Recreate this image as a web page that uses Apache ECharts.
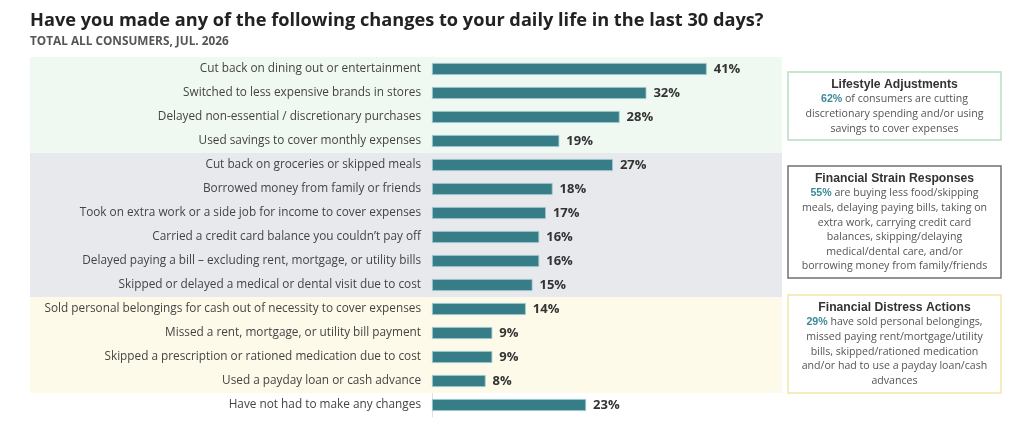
<!DOCTYPE html>
<html>
<head>
<meta charset="utf-8">
<script src="https://cdn.jsdelivr.net/npm/echarts@6/dist/echarts.min.js"></script>
<style>
  html, body { margin: 0; padding: 0; background: #fff; }
  #main { width: 1024px; height: 426px; }
</style>
</head>
<body>
<div id="main"></div>
<script>
var categories = [
    'Cut back on dining out or entertainment',
    'Switched to less expensive brands in stores',
    'Delayed non-essential / discretionary purchases',
    'Used savings to cover monthly expenses',
    'Cut back on groceries or skipped meals',
    'Borrowed money from family or friends',
    'Took on extra work or a side job for income to cover expenses',
    'Carried a credit card balance you couldn\u2019t pay off',
    'Delayed paying a bill \u2013 excluding rent, mortgage, or utility bills',
    'Skipped or delayed a medical or dental visit due to cost',
    'Sold personal belongings for cash out of necessity to cover expenses',
    'Missed a rent, mortgage, or utility bill payment',
    'Skipped a prescription or rationed medication due to cost',
    'Used a payday loan or cash advance',
    'Have not had to make any changes'
];
var values = [41, 32, 28, 19, 27, 18, 17, 16, 16, 15, 14, 9, 9, 8, 23];
// which group each row belongs to (background band)
var groups = ['life', 'life', 'life', 'life',
    'strain', 'strain', 'strain', 'strain', 'strain', 'strain',
    'distress', 'distress', 'distress', 'distress',
    'none'];

var bandColors = {
    life: '#f0f8f2',
    strain: '#e8e9ec',
    distress: '#fdfaea',
    none: 'rgba(0,0,0,0)'
};
var teal = '#367d88';

var boxes = [
    {
        title: 'Lifestyle Adjustments',
        pct: '62%',
        lines: ['of consumers are cutting', 'discretionary spending and/or using', 'savings to cover expenses'],
        border: '#b8dfc0',
        top: 72, height: 68
    },
    {
        title: 'Financial Strain Responses',
        pct: '55%',
        lines: ['are buying less food/skipping', 'meals, delaying paying bills, taking on', 'extra work, carrying credit card',
            'balances, skipping/delaying', 'medical/dental care, and/or', 'borrowing money from family/friends'],
        border: '#707070',
        top: 166, height: 112
    },
    {
        title: 'Financial Distress Actions',
        pct: '29%',
        lines: ['have sold personal belongings,', 'missed paying rent/mortgage/utility', 'bills, skipped/rationed medication',
            'and/or had to use a payday loan/cash', 'advances'],
        border: '#f1e7ae',
        top: 295, height: 98
    }
];

var chartDom = document.getElementById('main');
var myChart = echarts.init(chartDom);
var option;

var fontFam = '"Open Sans", "Noto Sans", sans-serif';

var bandData = groups.map(function (g) {
    return { value: 1, itemStyle: { color: bandColors[g] } };
});

var graphics = [];
boxes.forEach(function (b) {
    graphics.push({
        type: 'rect',
        shape: { x: 788, y: b.top, width: 213, height: b.height },
        style: { fill: '#fff', stroke: b.border, lineWidth: 1.5 },
        z: 10
    });
    var body = '{p|' + b.pct + '} ' + b.lines.join('\n');
    graphics.push({
        type: 'text',
        x: 894.5,
        y: b.top + 5,
        z: 11,
        style: {
            text: '{t|' + b.title + '}\n' + body,
            align: 'center',
            verticalAlign: 'top',
            fontFamily: fontFam,
            fontSize: 10.6,
            lineHeight: 14.6,
            fill: '#555',
            rich: {
                t: { fontWeight: 'bold', fontSize: 12.2, fill: '#333', lineHeight: 15 },
                p: { fontWeight: 'bold', fill: '#3a8a95', fontSize: 10.6 }
            }
        }
    });
});

option = {
    backgroundColor: '#fff',
    animation: false,
    title: {
        text: 'Have you made any of the following changes to your daily life in the last 30 days?',
        subtext: 'TOTAL ALL CONSUMERS, JUL. 2026',
        left: 25,
        top: 7,
        itemGap: 6,
        textStyle: { fontFamily: fontFam, fontSize: 18.2, fontWeight: 'bold', color: '#222' },
        subtextStyle: { fontFamily: fontFam, fontSize: 11.8, fontWeight: 'bold', color: '#555' }
    },
    grid: [
        { left: 30, right: 242, top: 57, bottom: 9 },
        { left: 432, right: 257, top: 57, bottom: 9 }
    ],
    xAxis: [
        { gridIndex: 0, type: 'value', min: 0, max: 1, show: false },
        { gridIndex: 1, type: 'value', min: 0, max: 50, show: false }
    ],
    yAxis: [
        { gridIndex: 0, type: 'category', data: categories, inverse: true, show: false },
        {
            gridIndex: 1,
            type: 'category',
            data: categories,
            inverse: true,
            axisLine: { show: true, lineStyle: { color: '#e2e2e2', width: 1 } },
            axisTick: { show: false },
            axisLabel: {
                fontFamily: fontFam,
                fontSize: 11.8,
                color: '#444',
                margin: 11
            }
        }
    ],
    series: [
        {
            type: 'bar',
            xAxisIndex: 0,
            yAxisIndex: 0,
            data: bandData,
            barWidth: '100%',
            silent: true,
            z: 0
        },
        {
            type: 'bar',
            xAxisIndex: 1,
            yAxisIndex: 1,
            data: values,
            barWidth: 12,
            z: 3,
            itemStyle: { color: teal, borderColor: '#9cc9cf', borderWidth: 0.8 },
            label: {
                show: true,
                position: 'right',
                distance: 7,
                formatter: '{c}%',
                fontFamily: fontFam,
                fontSize: 13,
                fontWeight: 'bold',
                color: '#333'
            }
        }
    ],
    graphic: graphics
};

option && myChart.setOption(option);
</script>
</body>
</html>
